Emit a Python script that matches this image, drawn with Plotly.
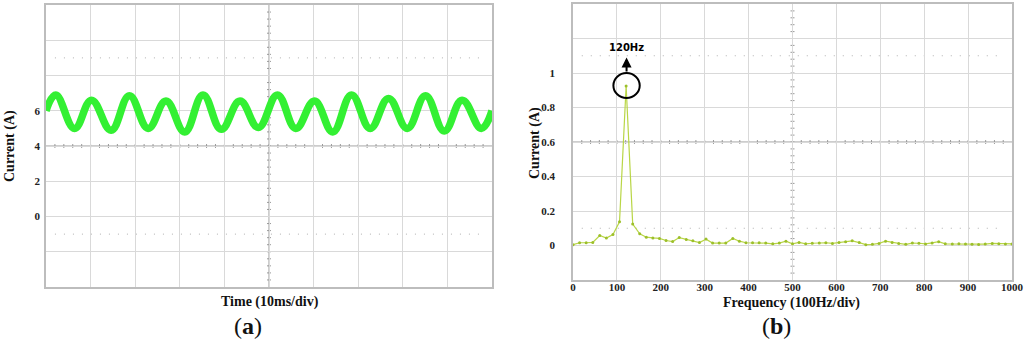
import plotly.graph_objects as go

# (a) current waveform, read at its peaks and troughs (ms, A)
time_ms = [0, 2.2, 6.4, 10.2, 14.6, 18.7, 22.9, 26.9, 31.1, 35.2, 39.3, 43.5, 47.6,
           51.9, 56.0, 60.2, 64.3, 68.5, 72.7, 76.8, 81.0, 85.1, 89.3, 93.3, 97.6, 100]
current_a = [6.0, 6.9, 5.0, 6.6, 4.9, 6.85, 5.0, 6.55, 4.8, 6.9, 4.95, 6.55, 5.05,
             6.9, 5.0, 6.55, 4.8, 6.9, 5.0, 6.7, 5.0, 6.85, 4.85, 6.6, 5.0, 6.0]

# (b) spectrum (Hz, A)
freq_hz = [0, 15, 30, 45, 61, 76, 91, 106, 121, 136, 152, 167, 182, 197, 212, 227, 242,
           258, 273, 288, 303, 318, 333, 348, 364, 379, 394, 409, 424, 439, 455, 470, 485,
           500, 515, 530, 545, 561, 576, 591, 606, 621, 636, 652, 667, 682, 697, 712, 727,
           742, 758, 773, 788, 803, 818, 833, 848, 864, 879, 894, 909, 924, 939, 955, 970,
           985, 1000]
amp_a = [0.005, 0.016, 0.016, 0.018, 0.058, 0.043, 0.064, 0.137, 0.925, 0.124, 0.068,
         0.048, 0.044, 0.041, 0.029, 0.023, 0.046, 0.035, 0.027, 0.017, 0.037, 0.014,
         0.014, 0.014, 0.041, 0.025, 0.016, 0.016, 0.016, 0.014, 0.010, 0.014, 0.025,
         0.010, 0.018, 0.010, 0.013, 0.015, 0.016, 0.012, 0.018, 0.022, 0.027, 0.017,
         0.005, 0.007, 0.012, 0.025, 0.017, 0.012, 0.007, 0.014, 0.013, 0.009, 0.015,
         0.022, 0.010, 0.009, 0.010, 0.009, 0.007, 0.006, 0.008, 0.012, 0.010, 0.009,
         0.009]

a_yticks = [-4, -2, 0, 2, 4, 6, 8, 10, 12]
a_ylabels = ["", "", "0", "2", "4", "6", "", "", ""]
b_yticks = [-0.2, 0, 0.2, 0.4, 0.6, 0.8, 1.0, 1.2, 1.4]
b_ylabels = ["", "0", "0.2", "0.4", "0.6", "0.8", "1", "", ""]
b_xticks = [0, 100, 200, 300, 400, 500, 600, 700, 800, 900, 1000]

GRID = "#d9d9d9"
FRAME = "#bdbdbd"
CENTER = "#9a9a9a"
SERIF = "Liberation Serif"
tickfont = dict(family=SERIF, size=11, color="#222", weight="bold")

fig = go.Figure()
fig.add_trace(go.Scatter(
    x=time_ms, y=current_a, mode="lines", xaxis="x", yaxis="y",
    line=dict(color="#33f033", width=7.5, shape="spline", smoothing=1.2),
))
fig.add_trace(go.Scatter(
    x=freq_hz, y=amp_a, mode="lines+markers", xaxis="x2", yaxis="y2",
    line=dict(color="#b9d646", width=1.2),
    marker=dict(color="#9cbf2a", size=3),
))

axis_common = dict(showgrid=True, gridcolor=GRID, gridwidth=1, zeroline=False,
                   showline=True, mirror=True, linecolor=FRAME, linewidth=1.5,
                   ticks="", tickfont=tickfont, fixedrange=True, automargin=False)

fig.update_layout(
    width=1024, height=343,
    margin=dict(l=0, r=0, t=0, b=0),
    paper_bgcolor="white", plot_bgcolor="white",
    showlegend=False,
    xaxis=dict(domain=[46 / 1024, 492 / 1024], range=[0, 100], dtick=10,
               showticklabels=False, anchor="y", **axis_common),
    yaxis=dict(domain=[1 - 287 / 343, 1 - 5 / 343], range=[-4, 12],
               tickmode="array", tickvals=a_yticks, ticktext=a_ylabels,
               ticklabelstandoff=2, anchor="x", **axis_common),
    xaxis2=dict(domain=[573 / 1024, 1012 / 1024], range=[0, 1000],
                tickmode="array", tickvals=b_xticks, anchor="y2",
                ticklabelstandoff=-4, **axis_common),
    yaxis2=dict(domain=[1 - 280 / 343, 1 - 4 / 343], range=[-0.2, 1.4],
                tickmode="array", tickvals=b_yticks, ticktext=b_ylabels,
                ticklabelstandoff=14, anchor="x2", **axis_common),
)

shapes = []
# centre cross-hair lines with small division ticks, and dotted guide lines
for xr, yr, xmid, ymid, xstep, ystep, x_lo, x_hi, y_lo, y_hi, dots in [
    ("x", "y", 50, 4, 2, 0.4, 0, 100, -4, 12, (-1, 9)),
    ("x2", "y2", 500, 0.6, 20, 0.04, 0, 1000, -0.2, 1.4, (0.1, 1.1)),
]:
    shapes.append(dict(type="line", xref=xr, yref=yr, x0=x_lo, x1=x_hi, y0=ymid, y1=ymid,
                       line=dict(color=CENTER, width=1), layer="below"))
    shapes.append(dict(type="line", xref=xr, yref=yr, x0=xmid, x1=xmid, y0=y_lo, y1=y_hi,
                       line=dict(color=CENTER, width=1), layer="below"))
    n = int(round((x_hi - x_lo) / xstep))
    for i in range(1, n):
        xv = x_lo + i * xstep
        shapes.append(dict(type="line", xref=xr, yref=yr, ysizemode="pixel", yanchor=ymid,
                           x0=xv, x1=xv, y0=-2, y1=2,
                           line=dict(color=CENTER, width=1), layer="below"))
    m = int(round((y_hi - y_lo) / ystep))
    for j in range(1, m):
        yv = y_lo + j * ystep
        shapes.append(dict(type="line", xref=xr, yref=yr, xsizemode="pixel", xanchor=xmid,
                           x0=-2, x1=2, y0=yv, y1=yv,
                           line=dict(color=CENTER, width=1), layer="below"))
    for yd in dots:
        shapes.append(dict(type="line", xref=xr, yref=yr,
                           x0=x_lo + 0.02 * (x_hi - x_lo), x1=x_hi - 0.02 * (x_hi - x_lo),
                           y0=yd, y1=yd,
                           line=dict(color="#b0b0b0", width=1, dash="1px,8px"), layer="below"))

# circle around the 120 Hz peak
shapes.append(dict(type="circle", xref="x2", yref="y2", x0=92, x1=152, y0=0.855, y1=1.0,
                   line=dict(color="black", width=2)))
fig.update_layout(shapes=shapes)

fig.add_annotation(x=122, y=1.09, ax=122, ay=1.0, xref="x2", yref="y2",
                   axref="x2", ayref="y2", text="", showarrow=True,
                   arrowhead=2, arrowsize=1, arrowwidth=2, arrowcolor="black")
fig.add_annotation(x=122, y=1.15, xref="x2", yref="y2", text="120Hz", showarrow=False,
                   font=dict(family="DejaVu Sans", size=10, color="black", weight="bold"))

title_font = dict(family=SERIF, size=14, color="#111", weight="bold")
label_font = dict(family=SERIF, size=24, color="#111")
for text, px, py, angle, font in [
    ("Current (A)", 10, 146, -90, title_font),
    ("Current (A)", 535, 143, -90, title_font),
    ("Time (10ms/div)", 270, 302, 0, title_font),
    ("Frequency (100Hz/div)", 791, 303, 0, title_font),
    ("(<b>a</b>)", 248, 326, 0, label_font),
    ("(<b>b</b>)", 776, 326, 0, label_font),
]:
    fig.add_annotation(x=px / 1024, y=1 - py / 343, xref="paper", yref="paper",
                       xanchor="center", yanchor="middle", text=text, textangle=angle,
                       showarrow=False, font=font)

fig.write_html("out.html", config={"displayModeBar": False},
               post_script="document.body.style.margin='0px';")
